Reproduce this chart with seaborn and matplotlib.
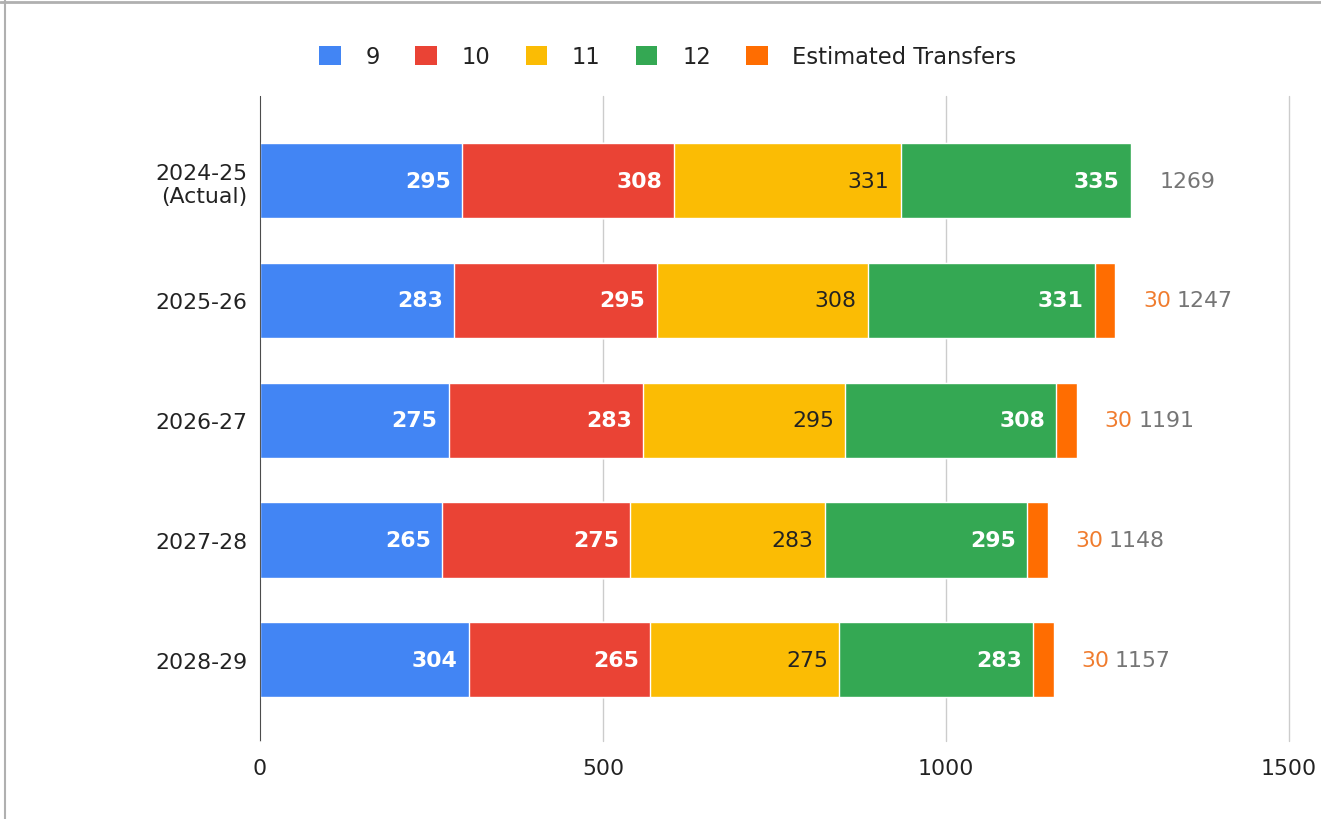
import matplotlib.pyplot as plt
import matplotlib.lines as mlines
from matplotlib.patches import Patch
import seaborn as sns
import pandas as pd

years = ['2024-25\n(Actual)', '2025-26', '2026-27', '2027-28', '2028-29']
grade9 = [295, 283, 275, 265, 304]
grade10 = [308, 295, 283, 275, 265]
grade11 = [331, 308, 295, 283, 275]
grade12 = [335, 331, 308, 295, 283]
transfers = [0, 30, 30, 30, 30]
totals = [1269, 1247, 1191, 1148, 1157]

series = ['9', '10', '11', '12', 'Estimated Transfers']
colors = ['#4285F4', '#EA4335', '#FBBC04', '#34A853', '#FF6D01']
label_colors = ['white', 'white', '#222222', 'white']

sns.set_theme(style="white")
plt.rcParams['font.family'] = ['DejaVu Sans']
fs = 15.8

df = pd.DataFrame({'year': years, '9': grade9, '10': grade10, '11': grade11,
                   '12': grade12, 'Estimated Transfers': transfers})
cum = df[series].cumsum(axis=1)

fig = plt.figure(figsize=(13.21, 8.2), dpi=100)
ax = fig.add_axes([0.1968, 0.095, 0.7790, 0.787])

# stacked bars: draw cumulative sums from the largest down
for s, c in reversed(list(zip(series, colors))):
    sns.barplot(x=cum[s], y=df['year'], color=c, width=0.63, saturation=1,
                orient='h', ax=ax, zorder=3)

ax.set_xlim(0, 1500)
ax.set_ylim(4.68, -0.71)
ax.set_xticks([0, 500, 1000, 1500])
ax.xaxis.grid(True, color='#cccccc', linewidth=1)
for gl in ax.get_xgridlines():
    gl.set_clip_on(False)
ax.set_axisbelow(True)
ax.axvline(0, color='#333333', linewidth=1.2, zorder=4)
for sp in ax.spines.values():
    sp.set_visible(False)
ax.set_xlabel('')
ax.set_ylabel('')
ax.tick_params(axis='both', length=0, labelsize=fs, colors='#222222')
ax.tick_params(axis='x', pad=12)
ax.tick_params(axis='y', pad=9)

# segment labels
for i in range(len(years)):
    for j, s in enumerate(series[:4]):
        ax.annotate(str(df[s][i]), xy=(cum[s][i], i), xytext=(-8, 0),
                    textcoords='offset points', ha='right', va='center',
                    fontsize=fs, color=label_colors[j],
                    fontweight='bold' if label_colors[j] == 'white' else 'normal',
                    zorder=5)
    end = cum['Estimated Transfers'][i]
    if transfers[i] > 0:
        t = ax.annotate(str(transfers[i]), xy=(end, i), xytext=(20, 0),
                        textcoords='offset points', ha='left', va='center',
                        fontsize=fs, color='#F07C2E')
        ax.annotate(str(totals[i]), xy=(1, 0.5), xycoords=t, xytext=(4, 0),
                    textcoords='offset points', ha='left', va='center',
                    fontsize=fs, color='#757575')
    else:
        ax.annotate(str(totals[i]), xy=(end, i), xytext=(21, 0),
                    textcoords='offset points', ha='left', va='center',
                    fontsize=fs, color='#757575')

handles = [Patch(facecolor=c, edgecolor='none', label=s) for s, c in zip(series, colors)]
fig.legend(handles=handles, loc='center', bbox_to_anchor=(668 / 1321, 1 - 58 / 820),
           ncol=5, frameon=False, fontsize=16.3, handlelength=0.95, handleheight=0.95,
           handletextpad=1.1, columnspacing=1.55, labelcolor='#222222')

# screenshot frame
fig.add_artist(mlines.Line2D([0, 1], [0.9965, 0.9965], color='#b0b0b0', linewidth=2))
fig.add_artist(mlines.Line2D([0.0035, 0.0035], [0, 1], color='#b0b0b0', linewidth=1.5))

fig.savefig('out.png', dpi=100)
